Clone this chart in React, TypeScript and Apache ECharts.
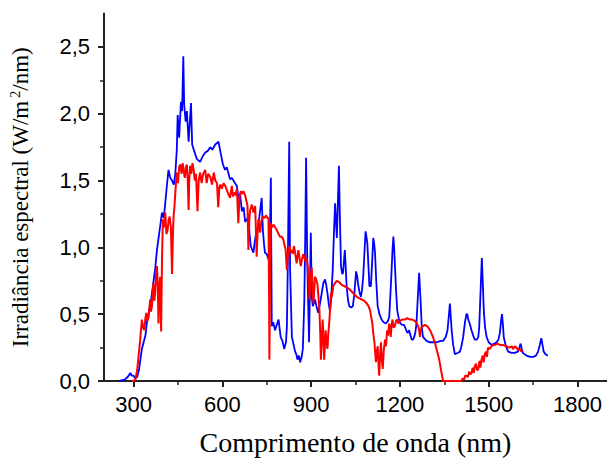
import React, { useEffect, useRef } from "react";
import * as echarts from "echarts";

const xTicks = [300, 600, 900, 1200, 1500, 1800];
const xMinorTicks = [450, 750, 1050, 1350, 1650];
const yTicks = [0, 0.5, 1.0, 1.5, 2.0, 2.5];
const yMinorTicks = [0.25, 0.75, 1.25, 1.75, 2.25];

const blueSeries: number[][] = [
  [251,0],[270,0.01],[280,0.03],[289,0.06],[293,0.04],[300,0.04],[305,0.02],[312,0.03],[318,0.08],[328,0.24],[335,0.30],[340,0.34],[345,0.44],[352,0.52],[360,0.62],[367,0.74],[373,0.84],[379,0.98],[385,1.08],[390,1.16],[396,1.26],[402,1.22],[407,1.33],[412,1.45],[418,1.58],[424,1.52],[430,1.50],[436,1.47],[441,1.55],[446,1.73],[449,1.99],[454,1.82],[460,2.09],[464,2.02],[468,2.43],[471,2.07],[476,1.94],[480,2.02],[486,1.79],[494,2.08],[498,1.77],[505,1.72],[514,1.66],[525,1.64],[533,1.68],[542,1.71],[550,1.72],[559,1.75],[566,1.73],[576,1.77],[587,1.79],[593,1.72],[602,1.62],[609,1.58],[615,1.60],[621,1.55],[626,1.51],[632,1.52],[643,1.48],[649,1.46],[655,1.36],[660,1.40],[666,1.27],[672,1.30],[677,1.19],[683,1.21],[688,1.23],[692,1.10],[696,1.01],[705,0.96],[710,1.05],[716,1.13],[720,1.16],[725,1.23],[729,1.30],[733,1.37],[737,1.13],[741,1.02],[744,0.96],[750,0.95],[756,0.91],[760,1.00],[764,1.52],[767,0.41],[772,0.44],[778,0.38],[784,0.42],[790,0.46],[797,0.33],[803,0.30],[809,0.24],[815,0.29],[818,0.40],[821,0.83],[826,1.79],[829,0.83],[835,0.33],[840,0.28],[846,0.22],[850,0.20],[854,0.16],[859,0.19],[863,0.14],[868,0.18],[872,0.24],[877,0.60],[880,1.06],[883,1.67],[887,0.89],[893,0.29],[896,0.70],[899,1.11],[902,0.63],[906,0.56],[913,0.61],[918,0.56],[924,0.51],[930,0.58],[936,0.66],[941,0.73],[947,0.76],[951,0.72],[955,0.66],[960,0.57],[964,0.52],[968,0.62],[973,0.83],[977,1.10],[981,1.33],[984,1.20],[987,1.07],[990,1.30],[994,1.61],[997,1.25],[1001,0.86],[1005,0.80],[1008,0.81],[1011,0.90],[1014,0.98],[1017,0.85],[1020,0.71],[1025,0.60],[1029,0.56],[1035,0.55],[1041,0.56],[1046,0.65],[1052,0.82],[1056,0.78],[1059,0.72],[1064,0.66],[1068,0.63],[1072,0.68],[1076,0.78],[1080,0.95],[1084,1.12],[1087,1.08],[1090,1.03],[1094,0.85],[1097,0.71],[1102,0.71],[1106,0.88],[1110,1.07],[1113,1.03],[1116,0.96],[1120,0.75],[1125,0.56],[1131,0.50],[1138,0.46],[1145,0.44],[1153,0.43],[1160,0.45],[1164,0.48],[1168,0.65],[1172,0.83],[1175,0.98],[1178,1.08],[1181,0.98],[1183,0.88],[1187,0.68],[1191,0.53],[1196,0.47],[1202,0.43],[1208,0.42],[1214,0.42],[1218,0.40],[1223,0.37],[1227,0.36],[1231,0.38],[1236,0.34],[1240,0.31],[1244,0.31],[1247,0.32],[1252,0.36],[1256,0.43],[1260,0.60],[1265,0.81],[1267,0.81],[1270,0.60],[1274,0.40],[1278,0.33],[1290,0.30],[1300,0.29],[1312,0.29],[1325,0.29],[1338,0.30],[1346,0.30],[1355,0.33],[1361,0.38],[1366,0.50],[1369,0.58],[1372,0.48],[1375,0.38],[1380,0.27],[1386,0.20],[1395,0.21],[1403,0.22],[1408,0.26],[1414,0.33],[1420,0.44],[1425,0.50],[1428,0.50],[1431,0.46],[1436,0.43],[1442,0.38],[1448,0.34],[1453,0.31],[1460,0.31],[1465,0.33],[1468,0.40],[1470,0.51],[1474,0.75],[1477,0.92],[1480,0.75],[1484,0.51],[1488,0.40],[1493,0.33],[1500,0.29],[1510,0.27],[1520,0.28],[1527,0.29],[1533,0.31],[1538,0.36],[1542,0.45],[1545,0.50],[1548,0.43],[1551,0.33],[1558,0.26],[1566,0.22],[1577,0.21],[1588,0.21],[1599,0.22],[1604,0.25],[1608,0.28],[1612,0.24],[1616,0.21],[1628,0.19],[1640,0.18],[1650,0.18],[1660,0.19],[1667,0.22],[1673,0.27],[1678,0.32],[1682,0.27],[1686,0.22],[1692,0.20],[1700,0.19]
];

const redSeries: number[][] = [
  [295,0],[300,0.0],[306,0.01],[312,0.08],[317,0.19],[322,0.30],[328,0.46],[332,0.40],[336,0.38],[340,0.47],[343,0.51],[347,0.45],[351,0.48],[356,0.61],[359,0.52],[362,0.56],[365,0.68],[367,0.73],[370,0.60],[373,0.66],[376,0.80],[379,0.86],[382,0.70],[384,0.43],[387,0.70],[390,0.78],[393,0.37],[396,0.90],[399,1.21],[403,1.15],[407,1.26],[411,1.10],[415,1.13],[418,1.20],[422,1.23],[426,1.15],[430,0.80],[433,1.10],[435,1.23],[438,1.30],[441,1.41],[444,1.50],[446,1.56],[450,1.48],[454,1.60],[458,1.62],[462,1.55],[466,1.63],[469,1.58],[473,1.52],[477,1.60],[480,1.62],[483,1.50],[486,1.28],[488,1.50],[491,1.61],[495,1.55],[499,1.63],[503,1.58],[507,1.50],[511,1.55],[516,1.27],[520,1.50],[525,1.56],[530,1.48],[535,1.55],[542,1.58],[547,1.48],[552,1.55],[559,1.53],[565,1.47],[571,1.56],[576,1.50],[582,1.48],[586,1.30],[590,1.45],[593,1.47],[598,1.44],[604,1.48],[610,1.46],[615,1.43],[620,1.40],[626,1.37],[632,1.46],[636,1.38],[640,1.41],[645,1.39],[649,1.44],[654,1.18],[658,1.38],[662,1.42],[667,1.40],[671,1.42],[677,1.39],[681,1.35],[685,1.31],[688,0.98],[691,1.20],[694,1.28],[700,1.32],[705,1.26],[711,1.31],[716,0.93],[719,1.10],[722,1.21],[725,1.15],[728,1.11],[732,1.20],[737,1.23],[742,1.22],[748,1.24],[752,1.22],[756,1.22],[758,0.60],[759,0.16],[761,0.70],[764,1.18],[768,1.15],[773,1.17],[778,1.15],[784,1.13],[790,1.10],[795,1.08],[800,1.08],[806,1.06],[810,1.02],[814,0.98],[818,0.83],[821,0.93],[824,0.97],[827,1.01],[831,0.96],[835,0.98],[838,0.95],[842,1.01],[846,0.96],[851,0.88],[854,0.93],[857,0.98],[861,0.92],[865,0.86],[870,0.92],[874,0.95],[880,0.90],[885,0.92],[889,0.85],[892,0.70],[894,0.61],[897,0.72],[900,0.80],[902,0.85],[905,0.72],[908,0.58],[911,0.70],[913,0.78],[917,0.76],[921,0.73],[925,0.63],[928,0.53],[931,0.35],[933,0.16],[936,0.30],[939,0.46],[942,0.30],[944,0.16],[947,0.28],[949,0.38],[952,0.30],[955,0.24],[958,0.35],[962,0.46],[965,0.58],[967,0.66],[970,0.63],[975,0.71],[980,0.73],[987,0.75],[995,0.74],[1003,0.72],[1012,0.71],[1020,0.70],[1028,0.69],[1037,0.67],[1045,0.65],[1054,0.63],[1062,0.62],[1071,0.61],[1080,0.60],[1088,0.58],[1094,0.56],[1099,0.53],[1103,0.48],[1107,0.43],[1110,0.36],[1114,0.29],[1117,0.20],[1119,0.14],[1122,0.22],[1125,0.26],[1128,0.12],[1130,0.04],[1133,0.18],[1136,0.29],[1139,0.16],[1142,0.09],[1146,0.24],[1150,0.31],[1153,0.26],[1157,0.38],[1160,0.34],[1164,0.43],[1167,0.38],[1169,0.33],[1172,0.42],[1175,0.46],[1179,0.40],[1183,0.41],[1187,0.45],[1191,0.46],[1195,0.43],[1200,0.45],[1208,0.46],[1217,0.46],[1225,0.47],[1234,0.46],[1242,0.46],[1251,0.45],[1257,0.43],[1262,0.41],[1265,0.38],[1268,0.33],[1270,0.38],[1273,0.40],[1278,0.41],[1285,0.42],[1292,0.41],[1302,0.38],[1310,0.34],[1318,0.29],[1326,0.22],[1333,0.16],[1340,0.07],[1346,0.0],[1408,0.0],[1412,0.02],[1417,0.01],[1421,0.04],[1425,0.04],[1430,0.03],[1434,0.07],[1438,0.05],[1442,0.06],[1446,0.10],[1450,0.06],[1453,0.11],[1457,0.13],[1461,0.08],[1465,0.09],[1469,0.15],[1472,0.10],[1476,0.16],[1480,0.19],[1483,0.14],[1487,0.20],[1491,0.22],[1494,0.18],[1498,0.25],[1503,0.24],[1510,0.26],[1515,0.27],[1521,0.27],[1530,0.28],[1538,0.27],[1548,0.27],[1560,0.26],[1570,0.25],[1578,0.26],[1583,0.24],[1588,0.26],[1594,0.25],[1600,0.23],[1605,0.24],[1610,0.22],[1614,0.23]
];

const X_MIN = 200;
const X_MAX = 1900;
const Y_MIN = 0;
const Y_MAX = 2.75;

export default function App() {
  const ref = useRef<HTMLDivElement>(null);
  useEffect(() => {
    if (!ref.current) return;
    const chart = echarts.init(ref.current, undefined, { renderer: "svg" });
    const axisColor = "#222";
    const labelFont = {
      fontFamily: "'Liberation Sans', Arial, sans-serif",
      fontSize: 22,
      color: "#000",
    };
    chart.setOption({
      animation: false,
      backgroundColor: "#fff",
      grid: { left: 104, right: 0, top: 13.5, bottom: 79.5, containLabel: false },
      xAxis: [
        {
          type: "value",
          min: X_MIN,
          max: X_MAX,
          position: "bottom",
          name: "Comprimento de onda (nm)",
          nameLocation: "middle",
          nameGap: 47,
          nameTextStyle: {
            fontFamily: "'Liberation Serif', 'Times New Roman', serif",
            fontSize: 28,
            color: "#000",
          },
          splitLine: { show: false },
          axisLine: { show: true, lineStyle: { color: axisColor, width: 2 } },
          axisTick: {
            show: true,
            inside: false,
            length: 6,
            customValues: xTicks,
            lineStyle: { color: axisColor, width: 2 },
          },
          axisLabel: {
            ...labelFont,
            margin: 12,
            customValues: xTicks,
            formatter: (v: number) => String(Math.round(v)),
          },
        },
        {
          type: "value",
          min: X_MIN,
          max: X_MAX,
          position: "bottom",
          splitLine: { show: false },
          axisLine: { show: false },
          axisTick: {
            show: true,
            inside: false,
            length: 4,
            customValues: xMinorTicks,
            lineStyle: { color: axisColor, width: 1.5 },
          },
          axisLabel: { show: false },
        },
      ],
      yAxis: [
        {
          type: "value",
          min: Y_MIN,
          max: Y_MAX,
          position: "left",
          name: "Irradiância espectral (W/m{sup|2}/nm)",
          nameLocation: "middle",
          nameRotate: 90,
          nameGap: 72,
          nameTextStyle: {
            fontFamily: "'Liberation Serif', 'Times New Roman', serif",
            fontSize: 23,
            color: "#000",
            rich: {
              sup: {
                fontFamily: "'Liberation Serif', 'Times New Roman', serif",
                fontSize: 14,
                color: "#000",
                verticalAlign: "top",
                padding: [0, 0, 10, 3],
              },
            },
          },
          splitLine: { show: false },
          axisLine: { show: true, lineStyle: { color: axisColor, width: 2 } },
          axisTick: {
            show: true,
            inside: false,
            length: 6,
            customValues: yTicks,
            lineStyle: { color: axisColor, width: 2 },
          },
          axisLabel: {
            ...labelFont,
            margin: 14,
            customValues: yTicks,
            formatter: (v: number) => v.toFixed(1).replace(".", ","),
          },
        },
        {
          type: "value",
          min: Y_MIN,
          max: Y_MAX,
          position: "left",
          splitLine: { show: false },
          axisLine: { show: false },
          axisTick: {
            show: true,
            inside: false,
            length: 4,
            customValues: yMinorTicks,
            lineStyle: { color: axisColor, width: 1.5 },
          },
          axisLabel: { show: false },
        },
      ],
      series: [
        {
          type: "line",
          data: blueSeries,
          xAxisIndex: 0,
          yAxisIndex: 0,
          showSymbol: false,
          symbol: "none",
          lineStyle: { color: "#0000ff", width: 1.8 },
          z: 2,
        },
        {
          type: "line",
          data: redSeries,
          xAxisIndex: 0,
          yAxisIndex: 0,
          showSymbol: false,
          symbol: "none",
          lineStyle: { color: "#ff0000", width: 2 },
          z: 3,
        },
      ],
    });
    return () => chart.dispose();
  }, []);
  return <div ref={ref} style={{ width: 607, height: 461, position: "absolute", left: 0, top: 0 }} />;
}
